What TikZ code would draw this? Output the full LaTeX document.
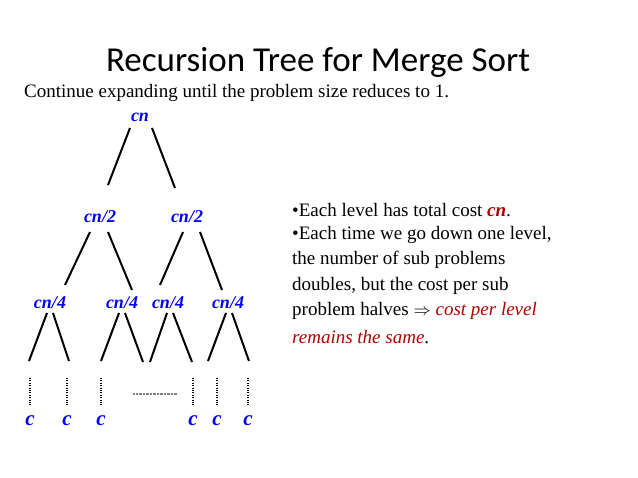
\documentclass[tikz,border=0pt]{standalone}
\usepackage{fontspec}
\setmainfont{Liberation Serif}
\newfontfamily\titlefont{Carlito}
\begin{document}
\begin{tikzpicture}[x=1pt,y=-1pt,
cost/.style={text=blue, font=\bfseries\itshape\fontsize{18}{20}\selectfont, inner sep=1pt},
leaf/.style={cost, font=\bfseries\itshape\fontsize{21}{22}\selectfont},
edge/.style={line width=2pt},
dots/.style={line width=2pt, dash pattern=on 0.8pt off 1.6pt},
txt/.style={anchor=west, font=\fontsize{19}{21}\selectfont, inner sep=0pt}]
\useasboundingbox (0,0) rectangle (638,478);

\draw (318,62) node[font=\titlefont\fontsize{35}{38}\selectfont] (T) {Recursion Tree for Merge Sort};
\draw (24,93) node[txt] (S) {Continue expanding until the problem size reduces to 1.};

\draw (140,117) node[cost] (N) {cn};
\draw (100,217) node[cost] (L) {cn/2};
\draw (187,217) node[cost] (R) {cn/2};
\draw (50,303) node[cost] (LL) {cn/4};
\draw (122,303) node[cost] (LR) {cn/4};
\draw (168,303) node[cost] (RL) {cn/4};
\draw (228,303) node[cost] (RR) {cn/4};

% upper branches
\foreach \p/\x/\y/\q/\u/\v in {n1/130/128/n2/108/185, n3/152/128/n4/175/188,
  l1/90/232/l2/65/285, l3/108/232/l4/132/290,
  r1/183/232/r2/160/285, r3/200/232/r4/222/290,
  a0/47/313/a1/29/361, a3/53/313/a2/69/361,
  b0/119/313/b1/101/361, b3/125/313/b2/143/362,
  c0/167/313/c1/150/362, c3/173/313/c2/192/362,
  d0/226/313/d1/208/361, d3/232/313/d2/249/361}{
  \coordinate (\p) at (\x,\y);
  \coordinate (\q) at (\u,\v);
  \draw[edge] (\p)--(\q);
}

% leaves
\foreach \x/\n in {30/1,67/2,101/3,193/4,217/5,248/6}{
  \draw (\x,421) node[leaf] (c\n) {c};
  \coordinate (t\n) at (\x,378);
  \draw[dots] (t\n)--(\x,405);
}
\coordinate (h1) at (133,394); \coordinate (h2) at (177,394);
\draw[gray, line width=1.2pt, dash pattern=on 0.6pt off 0.8pt] (h1)--(h2);

\draw (292,210) node[txt] (B1) {\textbullet Each level has total cost \textcolor{red!70!black}{\textbf{\textit{cn}}}.};
\draw (292,235) node[txt] (B2) {\textbullet Each time we go down one level,};
\draw (292,260) node[txt] (B3) {the number of sub problems};
\draw (292,286) node[txt] (B4) {doubles, but the cost per sub};
\draw (292,311) node[txt] (B5) {problem halves $\Rightarrow$ \textcolor{red!70!black}{\textit{cost per level}}};
\draw (292,337) node[txt] (B6) {\textcolor{red!70!black}{\textit{remains the same}}.};
\end{tikzpicture}
\end{document}
